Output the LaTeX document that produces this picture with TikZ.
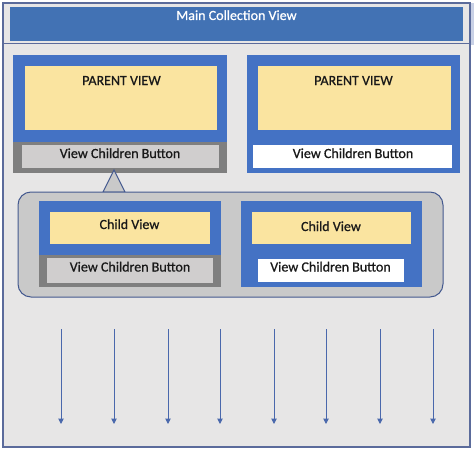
\documentclass[tikz,border=0pt]{standalone}
\usepackage{fontspec}
\setmainfont{Carlito}
\newfontfamily\lblfont{Carlito}[FakeBold=0.7]
\usetikzlibrary{arrows.meta}
\definecolor{bg}{HTML}{E7E6E6}
\definecolor{outerline}{HTML}{5B6B9B}
\definecolor{hdr}{HTML}{4272B4}
\definecolor{hshade}{HTML}{C9D1E6}
\definecolor{frm}{HTML}{4472C4}
\definecolor{yel}{HTML}{FAE4A0}
\definecolor{gfrm}{HTML}{7F7F7F}
\definecolor{gbtn}{HTML}{D0CECE}
\definecolor{cont}{HTML}{C9C9C9}
\definecolor{contline}{HTML}{44598F}
\definecolor{arr}{HTML}{4A68AC}
\newcommand\rbx[6]{\node[rectbox,#2, minimum width={(#5-#3)*1pt}, minimum height={(#6-#4)*1pt}] (#1) at ({(#3+#5)/2},{(#4+#6)/2}) {};}
\begin{document}
\begin{tikzpicture}[x=1pt,y=-1pt,
  rectbox/.style={inner sep=0pt, outer sep=0pt, draw=none},
  lbl/.style={inner sep=0pt, anchor=base, font=\lblfont\fontsize{14}{16}\selectfont, text=black!90},
  arrowst/.style={draw=arr, line width=1pt, -{Triangle[width=5.5pt,length=5.5pt]}}]
\useasboundingbox (0,0) rectangle (474,452);
% outer
\rbx{hshadow}{fill=hshade}{469}{3}{474}{45}
\rbx{outer}{draw=outerline, line width=1.2pt, fill=bg}{3}{3}{470}{447}
\coordinate (hl) at (3,44);
\coordinate (hr) at (470,44);
\draw[outerline, line width=1pt] (hl) -- (hr);
\rbx{header}{fill=hdr}{10}{7}{463}{41}
\node[lbl, text=white] (htext) at (236.5,20) {Main Collection View};
% parent 1
\rbx{p1}{fill=frm}{13}{55}{227}{173}
\rbx{p1g}{fill=gfrm}{13}{142}{227}{173}
\rbx{p1y}{fill=yel}{25}{66}{217}{130}
\rbx{p1b}{fill=gbtn}{22}{145}{219}{168}
\node[lbl] (p1t) at (121.5,85) {PARENT VIEW};
\node[lbl] (p1bt) at (120,158) {View Children Button};
% parent 2
\rbx{p2}{fill=frm}{247}{55}{460}{173}
\rbx{p2y}{fill=yel}{258}{66}{451}{130}
\rbx{p2b}{fill=white}{253}{145}{452}{168}
\node[lbl] (p2t) at (353.5,85) {PARENT VIEW};
\node[lbl] (p2bt) at (353,158) {View Children Button};
% callout pointer and container
\coordinate (tapex) at (114,170);
\coordinate (tl) at (103,192);
\coordinate (tr) at (125,192);
\draw[fill=cont, draw=contline, line width=1pt, line join=miter] (tapex) -- (tl) -- (tr) -- cycle;
\rbx{cont}{rounded corners=13pt, fill=cont, draw=contline, line width=1pt}{18}{192}{443}{297}
% child 1
\rbx{c1}{fill=frm}{39}{201}{221}{287}
\rbx{c1g}{fill=gfrm}{39}{255}{221}{287}
\rbx{c1y}{fill=yel}{50}{212}{210}{244}
\rbx{c1b}{fill=gbtn}{47}{258}{213}{283}
\node[lbl] (c1t) at (129.5,229) {Child View};
\node[lbl] (c1bt) at (130,271.5) {View Children Button};
% child 2
\rbx{c2}{fill=frm}{241}{201}{422}{287}
\rbx{c2y}{fill=yel}{252}{212}{411}{244}
\rbx{c2b}{fill=white}{258}{259}{404}{282}
\node[lbl] (c2t) at (331,231) {Child View};
\node[lbl] (c2bt) at (330.5,271.5) {View Children Button};
% arrows
\foreach \x [count=\i] in {61,114,168,220,274,326,380,433}{
  \coordinate (as\i) at (\x,329);
  \coordinate (ae\i) at (\x,424);
  \draw[arrowst] (as\i) -- (ae\i);
}
\end{tikzpicture}
\end{document}
